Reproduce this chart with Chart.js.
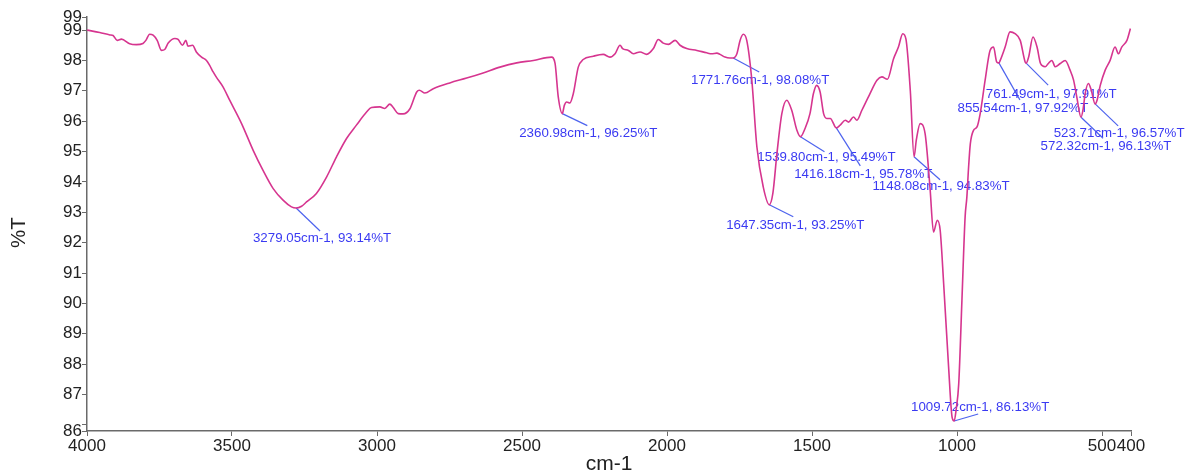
<!DOCTYPE html>
<html>
<head>
<meta charset="utf-8">
<title>FTIR spectrum</title>
<script src="https://cdn.jsdelivr.net/npm/chart.js@4.4.1/dist/chart.umd.min.js"></script>
<style>
  html, body { margin: 0; padding: 0; background: #ffffff; }
  #wrap { width: 1185px; height: 473px; }
</style>
</head>
<body>
<div id="wrap"><canvas id="spectrum" width="1185" height="473"></canvas></div>
<script>
// Spectrum: wavenumber (cm-1) and transmittance (%T)
const wavenumbers = [
  4000, 3956, 3921, 3910, 3896, 3881, 3853, 3830, 3807, 3797, 3784, 3772, 3758, 3743, 3732,
  3720, 3697, 3686, 3671, 3659, 3652, 3636, 3623, 3605, 3588, 3577, 3565, 3554, 3531, 3508,
  3467, 3427, 3393, 3358, 3324, 3295, 3279.05, 3260, 3243, 3209, 3174, 3140, 3105, 3071, 3036,
  3019, 2990, 2973, 2956, 2944, 2927, 2910, 2887, 2863, 2854, 2835, 2806, 2749, 2691, 2634,
  2576, 2518, 2461, 2398, 2386, 2375, 2360.98, 2354, 2346, 2335, 2323, 2306, 2289, 2254, 2220,
  2197, 2179, 2162, 2153, 2133, 2116, 2093, 2070, 2047, 2030, 2013, 1995, 1972, 1955, 1932,
  1897, 1863, 1846, 1828, 1817, 1800, 1783, 1771.76, 1759, 1748, 1737, 1725, 1708, 1690, 1668,
  1647.35, 1635, 1621, 1604, 1587, 1570, 1552, 1539.80, 1524, 1507, 1495, 1484, 1472, 1460, 1449,
  1437, 1416.18, 1403, 1385, 1374, 1357, 1345, 1328, 1300, 1276, 1259, 1240, 1219, 1202, 1187,
  1176, 1161, 1148.08, 1140, 1127, 1110, 1093, 1081, 1068, 1058, 1046, 1029, 1017, 1009.72, 1003,
  994, 983, 972, 966, 960, 954, 943, 931, 920, 903, 886, 874, 863, 855.54, 851,
  834, 817, 800, 782, 765, 761.49, 753, 738, 724, 712, 696, 685, 673, 661, 644,
  627, 610, 598, 587, 572.32, 565, 558, 547, 537, 523.71, 517, 506, 489, 472, 455,
  443, 432, 414, 402
];
const transmittance = [
  99.00, 98.92, 98.84, 98.82, 98.66, 98.70, 98.55, 98.52, 98.56, 98.66, 98.86, 98.83, 98.66, 98.33, 98.36,
  98.57, 98.72, 98.69, 98.50, 98.66, 98.47, 98.50, 98.28, 98.11, 98.00, 97.84, 97.62, 97.45, 97.13, 96.69,
  95.92, 95.04, 94.38, 93.78, 93.40, 93.18, 93.14, 93.20, 93.34, 93.62, 94.16, 94.82, 95.43, 95.87, 96.30,
  96.45, 96.47, 96.42, 96.56, 96.45, 96.25, 96.24, 96.40, 96.96, 97.02, 96.93, 97.07, 97.26, 97.42, 97.59,
  97.78, 97.92, 98.00, 98.11, 97.90, 96.80, 96.25, 96.52, 96.63, 96.60, 96.91, 97.78, 98.03, 98.14, 98.20,
  98.11, 98.22, 98.50, 98.39, 98.33, 98.22, 98.28, 98.20, 98.39, 98.69, 98.57, 98.53, 98.66, 98.50, 98.39,
  98.33, 98.25, 98.22, 98.24, 98.20, 98.11, 98.08, 98.08, 98.22, 98.66, 98.86, 98.66, 97.40, 95.15, 93.83,
  93.25, 93.62, 94.93, 96.25, 96.69, 96.36, 95.70, 95.49, 95.76, 96.25, 96.91, 97.18, 96.96, 96.25, 96.09,
  96.09, 95.78, 95.87, 96.03, 95.97, 96.14, 96.03, 96.36, 96.91, 97.35, 97.46, 97.38, 98.05, 98.44, 98.88,
  98.70, 97.00, 94.83, 95.40, 95.92, 95.59, 93.80, 92.35, 92.74, 92.41, 90.65, 87.91, 86.26, 86.13, 86.50,
  87.36, 90.10, 92.85, 93.50, 94.49, 95.26, 95.70, 95.81, 96.25, 97.35, 98.33, 98.44, 97.95, 97.92, 98.00,
  98.44, 98.94, 98.88, 98.66, 97.95, 97.91, 98.11, 98.77, 98.44, 97.90, 97.79, 97.90, 98.00, 97.79, 97.90,
  98.00, 97.68, 97.35, 96.80, 96.13, 96.40, 96.91, 97.24, 97.02, 96.57, 96.69, 97.18, 97.68, 98.00, 98.44,
  98.22, 98.44, 98.66, 99.05
];

// Labelled band positions
const peakWavenumbers = [3279.05, 2360.98, 1771.76, 1647.35, 1539.80, 1416.18, 1148.08, 1009.72, 855.54, 761.49, 572.32, 523.71];
const peakTransmittance = [93.14, 96.25, 98.08, 93.25, 95.49, 95.78, 94.83, 86.13, 97.92, 97.91, 96.13, 96.57];

// Axis ticks
const xTickValues = [4000, 3500, 3000, 2500, 2000, 1500, 1000, 500, 400];
const yTickValues = [85.8, 86, 87, 88, 89, 90, 91, 92, 93, 94, 95, 96, 97, 98, 99, 99.43];
const xRange = [400, 4000];
const yRange = [85.8, 99.43];

// Leader line end (dx, dy) and text centre (tx, ty), in pixels from each band point
const labelLayout = [
  [24, 23, 26, 30], [25, 12, 26, 20], [26, 14, 27, 22], [24, 12, 26, 21],
  [24, 15, 26, 21], [24, 38, 27, 46], [26, 23, 27, 30], [24, -7, 26, -14],
  [21, 37, 24, 45], [22, 22, 25, 31], [22, 21, 25, 29], [23, 22, 24, 29]
];

const FONT = "'Liberation Sans', Arial, 'DejaVu Sans', sans-serif";
const LINE_COLOR = '#d6358f';
const LABEL_COLOR = '#3a3af2';
const LEADER_COLOR = '#4d63ee';
const AXIS_COLOR = '#6a6a6a';

const bandLabels = {
  id: 'bandLabels',
  beforeDatasetsDraw(chart) {
    const ctx = chart.ctx;
    const xs = chart.scales.x, ys = chart.scales.y;
    ctx.save();
    ctx.font = '13.3px ' + FONT;
    ctx.textAlign = 'center';
    ctx.textBaseline = 'middle';
    peakWavenumbers.forEach((wn, i) => {
      const t = peakTransmittance[i];
      const px = xs.getPixelForValue(wn);
      const py = ys.getPixelForValue(t);
      const [dx, dy, tx, ty] = labelLayout[i];
      ctx.strokeStyle = LEADER_COLOR;
      ctx.lineWidth = 1.2;
      ctx.beginPath();
      ctx.moveTo(px, py);
      ctx.lineTo(px + dx, py + dy);
      ctx.stroke();
      ctx.fillStyle = LABEL_COLOR;
      ctx.fillText(wn.toFixed(2) + 'cm-1, ' + t.toFixed(2) + '%T', px + tx, py + ty);
    });
    ctx.restore();
  }
};

// Vertical axis title
const yTitle = {
  id: 'yTitle',
  afterDraw(chart) {
    const ctx = chart.ctx;
    const area = chart.chartArea;
    ctx.save();
    ctx.translate(19.5, (area.top + area.bottom) / 2 + 8.5);
    ctx.rotate(-Math.PI / 2);
    ctx.font = '20.5px ' + FONT;
    ctx.fillStyle = '#222222';
    ctx.textAlign = 'center';
    ctx.textBaseline = 'middle';
    ctx.fillText('%T', 0, 0);
    ctx.restore();
  }
};

new Chart(document.getElementById('spectrum'), {
  type: 'line',
  data: {
    datasets: [{
      data: wavenumbers.map((w, i) => ({ x: w, y: transmittance[i] })),
      borderColor: LINE_COLOR,
      borderWidth: 1.6,
      pointRadius: 0,
      fill: false,
      cubicInterpolationMode: 'monotone'
    }]
  },
  options: {
    responsive: false,
    animation: false,
    devicePixelRatio: 1,
    layout: { padding: { left: 0, right: 54, top: 17, bottom: 0 } },
    plugins: { legend: { display: false }, tooltip: { enabled: false } },
    scales: {
      x: {
        type: 'linear',
        reverse: true,
        min: xRange[0],
        max: xRange[1],
        afterBuildTicks: (s) => { s.ticks = xTickValues.map(v => ({ value: v })); },
        afterFit: (s) => { s.height = 42; },
        border: { display: true, color: AXIS_COLOR, width: 1.5 },
        grid: { display: true, drawOnChartArea: false, drawTicks: true, tickLength: 5, tickColor: AXIS_COLOR, tickWidth: 1 },
        ticks: {
          autoSkip: false, maxRotation: 0, padding: 0,
          color: '#222222', font: { family: FONT, size: 17 },
          callback: (v) => String(v)
        },
        title: {
          display: true, text: 'cm-1', color: '#222222',
          font: { family: FONT, size: 21, lineHeight: 0.8 },
          padding: { top: 0, bottom: 0 }
        }
      },
      y: {
        type: 'linear',
        min: yRange[0],
        max: yRange[1],
        afterBuildTicks: (s) => { s.ticks = yTickValues.map(v => ({ value: v })); },
        afterFit: (s) => { s.width = 87; },
        border: { display: true, color: AXIS_COLOR, width: 1.5 },
        grid: { display: true, drawOnChartArea: false, drawTicks: true, tickLength: 5, tickColor: AXIS_COLOR, tickWidth: 1 },
        ticks: {
          autoSkip: false, padding: 0,
          color: '#222222', font: { family: FONT, size: 17 },
          callback: (v) => (v === 86 ? '' : String(Math.round(v)))
        }
      }
    }
  },
  plugins: [bandLabels, yTitle]
});
</script>
</body>
</html>
